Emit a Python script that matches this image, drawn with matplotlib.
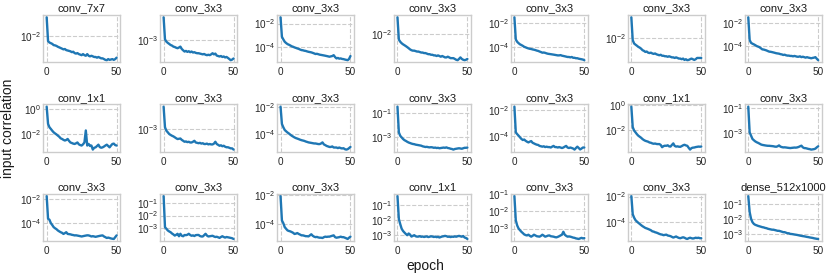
import numpy as np
import matplotlib
matplotlib.use('Agg')
import matplotlib.pyplot as plt
import matplotlib.ticker as mticker
import seaborn as sns

# layer names, row by row
titles = ['conv_7x7', 'conv_3x3', 'conv_3x3', 'conv_3x3', 'conv_3x3', 'conv_3x3', 'conv_3x3',
          'conv_1x1', 'conv_3x3', 'conv_3x3', 'conv_3x3', 'conv_3x3', 'conv_1x1', 'conv_3x3',
          'conv_3x3', 'conv_3x3', 'conv_3x3', 'conv_1x1', 'conv_3x3', 'conv_3x3', 'dense_512x1000']

# y ticks shown on each panel (log axis)
yticks = [[1e-2], [1e-3], [1e-2, 1e-4], [1e-2], [1e-2, 1e-4], [1e-2], [1e-2, 1e-4],
          [1e0, 1e-2], [1e-3], [1e-2, 1e-4], [1e-1, 1e-3], [1e-2, 1e-4], [1e0, 1e-2], [1e-1, 1e-3],
          [1e-2, 1e-4], [1e-1, 1e-2, 1e-3], [1e-2, 1e-4], [1e-1, 1e-2, 1e-3], [1e-1, 1e-2, 1e-3],
          [1e-2, 1e-4], [1e-1, 1e-2, 1e-3]]

# input correlation per epoch (0..50) for each layer
s00 = [0.043,
       0.0068, 0.0061, 0.0058, 0.0055, 0.0050, 0.0049, 0.0047, 0.0044, 0.0042, 0.0040,
       0.0038, 0.0036, 0.0037, 0.0034, 0.0033, 0.0032, 0.0031, 0.0029, 0.0030, 0.0027,
       0.0026, 0.0027, 0.0025, 0.0024, 0.0023, 0.0025, 0.0023, 0.0022, 0.0025, 0.0022,
       0.0021, 0.0022, 0.0021, 0.0020, 0.0020, 0.0019, 0.0020, 0.0019, 0.0018, 0.0018,
       0.0017, 0.0016, 0.00156, 0.0017, 0.0016, 0.00165, 0.0017, 0.0016, 0.0017, 0.0019]
s01 = [0.0058,
       0.00105, 0.00088, 0.00080, 0.00074, 0.00068, 0.00065, 0.00060, 0.00058, 0.00055, 0.00053,
       0.00056, 0.00060, 0.00050, 0.00045, 0.00041, 0.00043, 0.00040, 0.00042, 0.00039, 0.00041,
       0.00038, 0.00039, 0.00037, 0.00036, 0.00036, 0.00035, 0.00034, 0.00033, 0.00034, 0.00032,
       0.00031, 0.00032, 0.00031, 0.00033, 0.00036, 0.00033, 0.00035, 0.00030, 0.00029, 0.00028,
       0.00029, 0.00027, 0.00028, 0.00026, 0.00027, 0.00025, 0.00023, 0.00021, 0.00022, 0.00024]
s02 = [0.035,
       7.2e-4, 4.3e-4, 2.7e-4, 2.1e-4, 1.7e-4, 1.5e-4, 1.3e-4, 1.1e-4, 1.0e-4, 8.8e-5,
       8.0e-5, 7.2e-5, 6.6e-5, 5.8e-5, 5.2e-5, 5.0e-5, 4.6e-5, 4.4e-5, 4.0e-5, 3.7e-5,
       3.5e-5, 3.3e-5, 3.0e-5, 2.7e-5, 2.4e-5, 2.5e-5, 2.3e-5, 2.1e-5, 2.0e-5, 1.9e-5,
       1.8e-5, 1.7e-5, 1.6e-5, 1.5e-5, 1.4e-5, 1.5e-5, 1.6e-5, 1.9e-5, 1.3e-5, 1.0e-5,
       1.1e-5, 9.5e-6, 1.0e-5, 9.0e-6, 8.7e-6, 8.0e-6, 7.5e-6, 7.0e-6, 9.0e-6, 1.6e-5]
s03 = [0.035,
       0.0069, 0.0059, 0.0053, 0.0049, 0.0046, 0.0043, 0.0040, 0.0037, 0.0034, 0.0032,
       0.0031, 0.0031, 0.0030, 0.0029, 0.0029, 0.0028, 0.0027, 0.0027, 0.0026, 0.0026,
       0.0025, 0.0024, 0.0024, 0.0023, 0.0023, 0.0022, 0.0022, 0.0021, 0.0022, 0.0021,
       0.0020, 0.0021, 0.0020, 0.0019, 0.0019, 0.0020, 0.0019, 0.0018, 0.0018, 0.0018,
       0.0017, 0.0016, 0.00155, 0.0017, 0.0019, 0.0017, 0.0016, 0.00155, 0.0016, 0.0017]
s04 = [0.030,
       4.1e-4, 2.6e-4, 2.0e-4, 1.6e-4, 1.4e-4, 1.2e-4, 1.0e-4, 9.0e-5, 8.0e-5, 7.3e-5,
       6.8e-5, 6.5e-5, 6.0e-5, 5.7e-5, 5.3e-5, 4.8e-5, 4.5e-5, 4.0e-5, 3.6e-5, 3.2e-5,
       3.3e-5, 3.1e-5, 2.8e-5, 2.6e-5, 2.5e-5, 2.4e-5, 2.3e-5, 2.2e-5, 2.1e-5, 2.0e-5,
       1.9e-5, 1.9e-5, 2.0e-5, 1.8e-5, 1.7e-5, 1.6e-5, 1.5e-5, 1.4e-5, 1.4e-5, 1.3e-5,
       1.4e-5, 1.2e-5, 1.2e-5, 1.1e-5, 1.1e-5, 1.0e-5, 9.5e-6, 9.0e-6, 8.5e-6, 7.5e-6]
s05 = [0.058,
       0.0087, 0.0066, 0.0060, 0.0055, 0.0050, 0.0047, 0.0043, 0.0038, 0.0036, 0.0033,
       0.0034, 0.0031, 0.0030, 0.0031, 0.0029, 0.0028, 0.0029, 0.0027, 0.0026, 0.0025,
       0.0026, 0.0024, 0.0024, 0.0023, 0.0023, 0.0022, 0.0023, 0.0022, 0.0021, 0.0021,
       0.0020, 0.0021, 0.0020, 0.0019, 0.0019, 0.0018, 0.0019, 0.0017, 0.0018, 0.00166,
       0.0017, 0.0018, 0.0019, 0.0018, 0.0017, 0.0018, 0.0020, 0.0020, 0.0020, 0.0020]
s06 = [0.031,
       3.3e-4, 1.9e-4, 1.6e-4, 1.4e-4, 1.2e-4, 1.0e-4, 9.0e-5, 8.0e-5, 6.5e-5, 5.2e-5,
       5.0e-5, 4.6e-5, 4.2e-5, 3.7e-5, 3.3e-5, 3.2e-5, 3.0e-5, 2.8e-5, 2.6e-5, 2.4e-5,
       2.3e-5, 2.2e-5, 2.0e-5, 1.9e-5, 1.7e-5, 1.8e-5, 1.6e-5, 1.5e-5, 1.5e-5, 1.4e-5,
       1.4e-5, 1.3e-5, 1.4e-5, 1.3e-5, 1.2e-5, 1.2e-5, 1.3e-5, 1.1e-5, 1.2e-5, 1.1e-5,
       1.0e-5, 1.1e-5, 1.0e-5, 9.5e-6, 8.8e-6, 9.5e-6, 1.0e-5, 1.1e-5, 8.0e-6, 6.0e-6]

s10 = [1.5,
       0.063, 0.034, 0.025, 0.018, 0.0135, 0.011, 0.0092, 0.0074, 0.0060, 0.0045,
       0.0040, 0.0034, 0.0030, 0.0033, 0.0040, 0.0028, 0.0021, 0.0019, 0.0017, 0.0016,
       0.0018, 0.0021, 0.0015, 0.0013, 0.0012, 0.0015, 0.0021, 0.019, 0.0012, 0.0016,
       0.0011, 0.0012, 5.7e-4, 8.0e-4, 8.6e-4, 0.0011, 0.0014, 9.0e-4, 8.0e-4, 8.6e-4,
       0.0010, 0.0012, 0.0014, 0.0011, 8.6e-4, 0.0012, 0.0016, 0.0017, 0.0013, 0.0012]
s11 = [0.0064,
       0.00118, 8.9e-4, 7.8e-4, 6.8e-4, 6.3e-4, 5.9e-4, 5.6e-4, 5.2e-4, 4.8e-4, 4.5e-4,
       4.6e-4, 4.7e-4, 4.2e-4, 3.9e-4, 3.6e-4, 3.7e-4, 3.5e-4, 3.6e-4, 3.4e-4, 3.4e-4,
       3.6e-4, 3.9e-4, 3.4e-4, 3.3e-4, 3.2e-4, 3.3e-4, 3.1e-4, 3.2e-4, 3.0e-4, 3.0e-4,
       3.1e-4, 2.9e-4, 3.0e-4, 2.9e-4, 2.9e-4, 3.1e-4, 3.6e-4, 3.0e-4, 2.8e-4, 2.6e-4,
       2.7e-4, 2.5e-4, 2.6e-4, 2.4e-4, 2.3e-4, 2.3e-4, 2.2e-4, 2.1e-4, 2.1e-4, 1.9e-4]
s12 = [0.011,
       5.6e-4, 3.2e-4, 2.0e-4, 1.6e-4, 1.3e-4, 1.1e-4, 9.0e-5, 7.5e-5, 6.5e-5, 5.6e-5,
       5.0e-5, 4.6e-5, 4.2e-5, 3.8e-5, 3.5e-5, 3.3e-5, 3.1e-5, 2.8e-5, 2.6e-5, 2.4e-5,
       2.3e-5, 2.2e-5, 2.1e-5, 2.0e-5, 2.0e-5, 1.9e-5, 1.8e-5, 1.8e-5, 2.0e-5, 2.4e-5,
       1.7e-5, 1.5e-5, 1.3e-5, 1.2e-5, 1.1e-5, 1.1e-5, 1.2e-5, 1.0e-5, 1.0e-5, 1.0e-5,
       9.0e-6, 1.0e-5, 9.0e-6, 8.5e-6, 8.9e-6, 7.5e-6, 7.0e-6, 7.5e-6, 9.0e-6, 1.1e-5]
s13 = [0.33,
       0.0023, 0.0012, 8.8e-4, 6.5e-4, 5.2e-4, 4.5e-4, 3.8e-4, 3.3e-4, 3.0e-4, 2.7e-4,
       2.5e-4, 2.4e-4, 2.2e-4, 2.1e-4, 2.0e-4, 1.9e-4, 1.8e-4, 1.6e-4, 1.5e-4, 1.4e-4,
       1.45e-4, 1.35e-4, 1.3e-4, 1.35e-4, 1.3e-4, 1.2e-4, 1.25e-4, 1.15e-4, 1.2e-4, 1.1e-4,
       1.15e-4, 1.2e-4, 1.25e-4, 1.2e-4, 1.3e-4, 1.15e-4, 1.1e-4, 1.0e-4, 9.5e-5, 8.5e-5,
       9.5e-5, 1.0e-4, 1.05e-4, 1.1e-4, 1.05e-4, 1.0e-4, 1.1e-4, 1.2e-4, 1.2e-4, 1.25e-4]
s14 = [0.018,
       1.8e-4, 1.3e-4, 1.0e-4, 7.4e-5, 5.6e-5, 4.6e-5, 5.0e-5, 4.0e-5, 3.4e-5, 3.0e-5,
       3.4e-5, 3.8e-5, 2.8e-5, 2.5e-5, 2.2e-5, 2.0e-5, 1.9e-5, 1.6e-5, 1.5e-5, 1.4e-5,
       1.5e-5, 1.3e-5, 1.4e-5, 1.3e-5, 1.3e-5, 1.2e-5, 1.4e-5, 1.6e-5, 1.3e-5, 1.3e-5,
       1.2e-5, 1.3e-5, 1.2e-5, 1.1e-5, 1.2e-5, 1.4e-5, 1.6e-5, 1.2e-5, 1.1e-5, 1.2e-5,
       1.1e-5, 1.0e-5, 8.3e-6, 1.1e-5, 1.4e-5, 1.1e-5, 8.5e-6, 1.0e-5, 1.2e-5, 1.2e-5]
s15 = [0.81,
       0.017, 0.0089, 0.0064, 0.0045, 0.0034, 0.0028, 0.0023, 0.0018, 0.0015, 0.0013,
       0.0012, 0.0011, 9.5e-4, 9.0e-4, 8.0e-4, 7.5e-4, 7.8e-4, 7.2e-4, 7.0e-4, 7.1e-4,
       6.0e-4, 3.9e-4, 4.8e-4, 5.2e-4, 5.1e-4, 5.6e-4, 4.6e-4, 4.4e-4, 6.0e-4, 8.0e-4,
       5.0e-4, 4.4e-4, 4.6e-4, 4.3e-4, 4.2e-4, 4.8e-4, 5.6e-4, 6.2e-4, 5.5e-4, 5.1e-4,
       3.5e-4, 2.5e-4, 3.3e-4, 3.6e-4, 3.7e-4, 4.0e-4, 4.2e-4, 4.4e-4, 4.3e-4, 4.4e-4]
s16 = [0.133,
       0.0011, 6.1e-4, 3.3e-4, 2.6e-4, 2.1e-4, 1.8e-4, 1.6e-4, 1.4e-4, 1.2e-4, 1.1e-4,
       1.05e-4, 1.0e-4, 9.6e-5, 9.3e-5, 9.3e-5, 9.0e-5, 8.8e-5, 8.5e-5, 8.0e-5, 7.8e-5,
       8.5e-5, 1.0e-4, 8.0e-5, 7.3e-5, 6.9e-5, 7.0e-5, 6.8e-5, 6.5e-5, 6.3e-5, 6.1e-5,
       6.3e-5, 6.5e-5, 6.7e-5, 6.6e-5, 6.9e-5, 7.5e-5, 8.5e-5, 9.5e-5, 7.0e-5, 6.1e-5,
       6.0e-5, 5.6e-5, 5.2e-5, 5.0e-5, 4.6e-5, 4.8e-5, 5.0e-5, 5.5e-5, 7.0e-5, 8.5e-5]

s20 = [0.017,
       2.3e-4, 1.9e-4, 1.0e-4, 7.0e-5, 4.7e-5, 3.8e-5, 3.2e-5, 2.5e-5, 2.1e-5, 1.8e-5,
       1.6e-5, 1.3e-5, 1.5e-5, 1.8e-5, 1.3e-5, 1.25e-5, 1.2e-5, 1.1e-5, 1.05e-5, 9.8e-6,
       1.0e-5, 9.5e-6, 9.0e-6, 8.5e-6, 8.0e-6, 8.5e-6, 9.0e-6, 9.5e-6, 1.0e-5, 9.8e-6,
       9.0e-6, 8.0e-6, 8.5e-6, 8.0e-6, 7.5e-6, 8.0e-6, 8.5e-6, 9.0e-6, 9.5e-6, 9.8e-6,
       8.0e-6, 7.0e-6, 6.0e-6, 6.5e-6, 6.0e-6, 5.5e-6, 5.2e-6, 5.0e-6, 7.0e-6, 9.8e-6]
s21 = [0.35,
       0.0012, 8.9e-4, 6.6e-4, 5.5e-4, 4.8e-4, 3.8e-4, 3.2e-4, 2.6e-4, 3.0e-4, 3.6e-4,
       2.3e-4, 3.6e-4, 2.5e-4, 2.3e-4, 2.9e-4, 2.8e-4, 3.0e-4, 3.6e-4, 2.9e-4, 2.5e-4,
       2.7e-4, 2.4e-4, 2.8e-4, 2.9e-4, 2.9e-4, 2.4e-4, 2.2e-4, 2.2e-4, 2.8e-4, 3.6e-4,
       2.6e-4, 2.2e-4, 2.3e-4, 2.4e-4, 2.5e-4, 2.2e-4, 2.0e-4, 2.1e-4, 1.9e-4, 1.7e-4,
       2.0e-4, 2.3e-4, 2.0e-4, 1.8e-4, 2.0e-4, 1.9e-4, 1.8e-4, 1.7e-4, 1.6e-4, 1.4e-4]
s22 = [0.0083,
       1.7e-4, 1.1e-4, 5.9e-5, 4.5e-5, 3.5e-5, 3.2e-5, 3.0e-5, 2.7e-5, 2.4e-5, 2.0e-5,
       2.1e-5, 2.3e-5, 2.0e-5, 1.8e-5, 1.6e-5, 1.6e-5, 1.5e-5, 1.4e-5, 1.4e-5, 1.35e-5,
       1.6e-5, 1.9e-5, 1.5e-5, 1.3e-5, 1.2e-5, 1.25e-5, 1.15e-5, 1.1e-5, 1.1e-5, 1.05e-5,
       1.2e-5, 1.3e-5, 1.25e-5, 1.3e-5, 1.3e-5, 1.4e-5, 1.5e-5, 1.6e-5, 1.2e-5, 1.1e-5,
       1.15e-5, 1.2e-5, 1.3e-5, 1.2e-5, 1.2e-5, 1.1e-5, 1.0e-5, 9.0e-6, 1.1e-5, 1.3e-5]
s23 = [0.41,
       0.012, 0.0054, 0.0027, 0.0019, 0.0015, 0.0012, 0.0010, 0.0013, 0.0011, 8.1e-4,
       9.0e-4, 0.0010, 8.5e-4, 8.0e-4, 8.1e-4, 8.6e-4, 7.8e-4, 8.2e-4, 7.6e-4, 8.0e-4,
       8.3e-4, 7.5e-4, 7.9e-4, 8.4e-4, 8.1e-4, 7.6e-4, 8.0e-4, 7.4e-4, 7.8e-4, 7.0e-4,
       7.6e-4, 8.2e-4, 8.5e-4, 9.0e-4, 8.6e-4, 7.8e-4, 8.0e-4, 7.5e-4, 8.0e-4, 7.8e-4,
       8.3e-4, 7.9e-4, 8.5e-4, 9.0e-4, 8.4e-4, 7.9e-4, 8.8e-4, 7.0e-4, 6.5e-4, 5.6e-4]
s24 = [0.076,
       0.003, 0.0015, 0.0010, 8.0e-4, 6.5e-4, 5.5e-4, 4.6e-4, 4.2e-4, 4.0e-4, 4.4e-4,
       3.8e-4, 3.4e-4, 3.8e-4, 4.4e-4, 4.0e-4, 3.6e-4, 3.5e-4, 3.4e-4, 3.8e-4, 4.4e-4,
       3.9e-4, 3.4e-4, 3.6e-4, 3.9e-4, 4.0e-4, 3.6e-4, 3.5e-4, 3.4e-4, 3.2e-4, 3.1e-4,
       3.3e-4, 3.6e-4, 4.0e-4, 4.4e-4, 6.5e-4, 4.4e-4, 3.8e-4, 3.4e-4, 3.5e-4, 3.4e-4,
       3.2e-4, 3.0e-4, 2.9e-4, 2.7e-4, 2.6e-4, 2.5e-4, 2.7e-4, 2.9e-4, 2.7e-4, 2.8e-4]
s25 = [0.011,
       4.1e-4, 2.2e-4, 1.4e-4, 1.1e-4, 8.8e-5, 7.2e-5, 5.8e-5, 4.8e-5, 4.1e-5, 3.5e-5,
       3.2e-5, 2.9e-5, 2.6e-5, 2.3e-5, 1.9e-5, 1.8e-5, 1.6e-5, 1.5e-5, 1.35e-5, 1.2e-5,
       1.1e-5, 1.05e-5, 9.5e-6, 1.0e-5, 1.05e-5, 9.0e-6, 8.5e-6, 8.0e-6, 7.0e-6, 6.2e-6,
       6.8e-6, 7.5e-6, 6.5e-6, 5.8e-6, 5.5e-6, 6.0e-6, 6.5e-6, 6.0e-6, 5.2e-6, 4.8e-6,
       5.5e-6, 6.0e-6, 5.5e-6, 5.2e-6, 5.5e-6, 6.0e-6, 5.7e-6, 6.0e-6, 5.5e-6, 5.5e-6]
s26 = [0.33,
       0.028, 0.010, 0.006, 0.0046, 0.0040, 0.0037, 0.0034, 0.0032, 0.0030, 0.0028,
       0.0027, 0.0025, 0.0024, 0.0022, 0.0021, 0.0020, 0.0019, 0.0019, 0.0018, 0.0017,
       0.0016, 0.0016, 0.0015, 0.0014, 0.0013, 0.0013, 0.0012, 0.0011, 0.0011, 0.0010,
       9.8e-4, 9.5e-4, 9.1e-4, 8.8e-4, 8.5e-4, 8.1e-4, 7.7e-4, 7.4e-4, 7.1e-4, 6.9e-4,
       6.6e-4, 6.3e-4, 6.1e-4, 5.8e-4, 5.6e-4, 5.4e-4, 5.1e-4, 4.9e-4, 4.7e-4, 4.6e-4]

series = [s00, s01, s02, s03, s04, s05, s06,
          s10, s11, s12, s13, s14, s15, s16,
          s20, s21, s22, s23, s24, s25, s26]

sns.set_style('whitegrid', {'grid.linestyle': '--', 'axes.edgecolor': '.8'})
plt.rcParams['font.family'] = ['Liberation Sans', 'DejaVu Sans']

fig, axes = plt.subplots(3, 7, figsize=(8.3, 2.74), dpi=100)
fig.subplots_adjust(left=0.052, right=0.990, top=0.945, bottom=0.120,
                    wspace=0.52, hspace=0.89)

for i, ax in enumerate(axes.flat):
    y = np.array(series[i])
    x = np.arange(len(y))
    ax.plot(x, y, color='#1f77b4', lw=1.7)
    ax.set_yscale('log')
    ax.set_yticks(yticks[i])
    ax.yaxis.set_minor_locator(mticker.NullLocator())
    ax.set_xticks([0, 50])
    ax.set_title(titles[i], fontsize=8, pad=2.5, color='.1')
    ax.tick_params(axis='both', labelsize=7.2, colors='.15', length=0)
    ax.tick_params(axis='x', pad=3.5)
    ax.tick_params(axis='y', pad=1.5)
    ax.grid(True, linestyle='--', color='.8', lw=0.8)
    for sp in ax.spines.values():
        sp.set_linewidth(1.0)

fig.text(0.0096, 0.533, 'input correlation', rotation=90, ha='center', va='center',
         fontsize=10, color='.1')
fig.text(0.512, 0.03, 'epoch', ha='center', va='center', fontsize=10, color='.1')

fig.savefig('out.png', dpi=100)
